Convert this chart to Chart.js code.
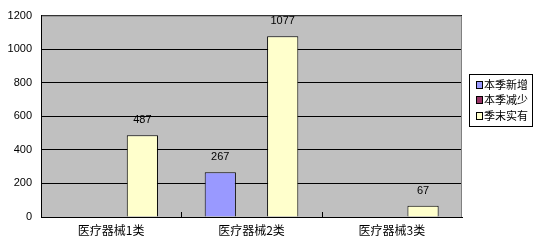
<!DOCTYPE html>
<html>
<head>
<meta charset="utf-8">
<script src="https://cdn.jsdelivr.net/npm/chart.js@4"></script>
<style>
  html, body { margin: 0; padding: 0; background: #ffffff; }
  #wrap { width: 540px; height: 246px; position: relative; }
</style>
</head>
<body>
<div id="wrap"><canvas id="c" width="540" height="246"></canvas></div>
<script>
// Medical device registrations by class, per quarter
const categories = ['医疗器械1类', '医疗器械2类', '医疗器械3类'];
const seriesNames = ['本季新增', '本季减少', '季末实有'];
const newThisQuarter = [null, 267, null];
const removedThisQuarter = [null, null, null];
const heldAtQuarterEnd = [487, 1077, 67];
const yTicks = [0, 200, 400, 600, 800, 1000, 1200];

const colors = ['#9999FF', '#993366', '#FFFFCC'];
const cjkFont = '"Noto Sans CJK SC", "Noto Sans", sans-serif';
const latinFont = '"Liberation Sans", Arial, sans-serif';

// Grey plot area with a thin frame on the top and right
const plotBackground = {
  id: 'plotBackground',
  beforeDraw(chart) {
    const { ctx, chartArea: a } = chart;
    ctx.save();
    ctx.fillStyle = '#C0C0C0';
    ctx.fillRect(a.left, a.top, a.right - a.left, a.bottom - a.top);
    ctx.restore();
  },
  afterDatasetsDraw(chart) {
    const { ctx, chartArea: a } = chart;
    ctx.save();
    ctx.strokeStyle = '#808080';
    ctx.lineWidth = 1;
    ctx.beginPath();
    ctx.moveTo(a.left + 1, a.top + 0.5);
    ctx.lineTo(a.right - 0.5, a.top + 0.5);
    ctx.lineTo(a.right - 0.5, a.bottom);
    ctx.stroke();
    ctx.restore();
  }
};

// Short category separators rising from the x axis, value labels, legend box
const extras = {
  id: 'extras',
  afterDraw(chart) {
    const { ctx, chartArea: a } = chart;
    const xs = chart.scales.x;
    ctx.save();
    ctx.strokeStyle = '#000000';
    ctx.lineWidth = 1;
    for (let i = 1; i < categories.length; i++) {
      const x = Math.round((xs.getPixelForValue(i - 1) + xs.getPixelForValue(i)) / 2) + 0.5;
      ctx.beginPath();
      ctx.moveTo(x, a.bottom);
      ctx.lineTo(x, a.bottom - 5);
      ctx.stroke();
    }

    ctx.fillStyle = '#000000';
    ctx.font = '11px ' + latinFont;
    ctx.textAlign = 'center';
    ctx.textBaseline = 'middle';
    chart.data.datasets.forEach((ds, di) => {
      const meta = chart.getDatasetMeta(di);
      meta.data.forEach((bar, i) => {
        const v = ds.data[i];
        if (v === null || v === undefined) return;
        ctx.fillText(String(v), bar.x, bar.y - 15);
      });
    });

    // Legend
    const lx = 469.5, ly = 74.5, lw = 63, lh = 52;
    ctx.fillStyle = '#ffffff';
    ctx.fillRect(lx, ly, lw, lh);
    ctx.strokeStyle = '#000000';
    ctx.strokeRect(lx, ly, lw, lh);
    ctx.font = '11px ' + cjkFont;
    ctx.textAlign = 'left';
    chart.data.datasets.forEach((ds, di) => {
      const cy = 84.5 + di * 15.5;
      ctx.fillStyle = ds.backgroundColor;
      ctx.fillRect(476.5, Math.round(cy) - 3.5, 6, 7);
      ctx.strokeStyle = '#000000';
      ctx.strokeRect(476.5, Math.round(cy) - 3.5, 6, 7);
      ctx.fillStyle = '#000000';
      ctx.fillText(ds.label, 484, cy);
    });
    ctx.restore();
  }
};

new Chart(document.getElementById('c'), {
  type: 'bar',
  data: {
    labels: categories,
    datasets: [
      { label: seriesNames[0], data: newThisQuarter, backgroundColor: colors[0] },
      { label: seriesNames[1], data: removedThisQuarter, backgroundColor: colors[1] },
      { label: seriesNames[2], data: heldAtQuarterEnd, backgroundColor: colors[2] }
    ].map(d => Object.assign(d, { borderColor: '#000000', borderWidth: 1, borderSkipped: 'bottom' }))
  },
  options: {
    responsive: false,
    animation: false,
    devicePixelRatio: 1,
    layout: { padding: { top: 15, right: 78, left: 0, bottom: 0 } },
    categoryPercentage: 0.667,
    barPercentage: 1.0,
    plugins: { legend: { display: false }, tooltip: { enabled: false } },
    scales: {
      x: {
        grid: { display: false, drawTicks: false },
        border: { display: true, color: '#000000', width: 1 },
        ticks: { color: '#000000', font: { family: cjkFont, size: 12 }, padding: 6, maxRotation: 0 },
        afterFit(scale) { scale.height = 29; }
      },
      y: {
        min: 0, max: 1200,
        afterBuildTicks(scale) { scale.ticks = yTicks.map(v => ({ value: v })); },
        grid: { color: '#000000', lineWidth: 1, drawTicks: false },
        border: { display: true, color: '#000000', width: 1 },
        ticks: {
          color: '#000000', font: { family: latinFont, size: 11 }, padding: 9,
          callback: v => String(v)
        },
        afterFit(scale) { scale.width = 41; }
      }
    }
  },
  plugins: [plotBackground, extras]
});
</script>
</body>
</html>
